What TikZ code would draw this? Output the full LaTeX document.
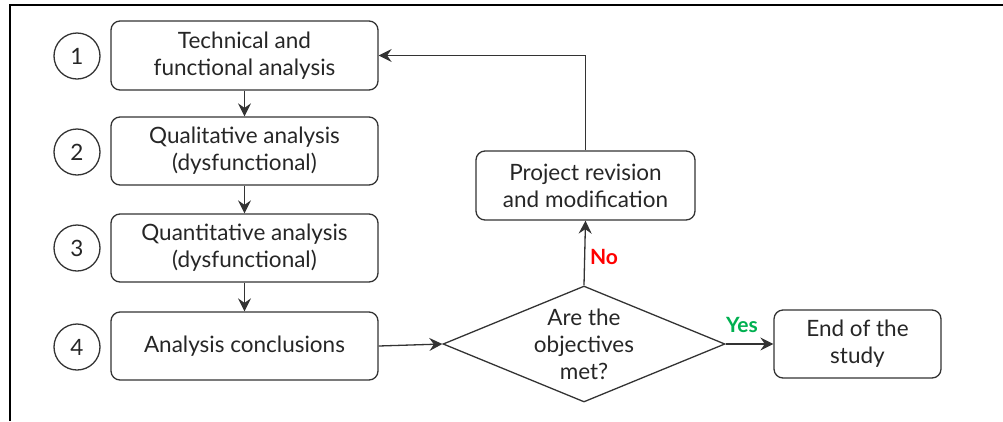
\documentclass[tikz,border=0pt]{standalone}
\usepackage{fontspec}
\setmainfont{Lato}
\usetikzlibrary{shapes.geometric,arrows.meta}
\definecolor{linec}{HTML}{333333}
\definecolor{yesgreen}{HTML}{00B050}
\begin{document}
\begin{tikzpicture}[x=1pt,y=-1pt,
  txt/.style={font=\fontsize{22.5}{27}\selectfont, text=black!85},
  box/.style={draw=linec, line width=1.3pt, rounded corners=9pt, align=center, inner sep=0pt, txt},
  num/.style={draw=linec, line width=1.3pt, circle, minimum size=46pt, inner sep=0pt, txt},
  dec/.style={draw=linec, line width=1.3pt, diamond, minimum width=282pt, minimum height=116pt, inner sep=0pt},
  conn/.style={draw=linec, line width=1.3pt, -{Stealth[length=13pt,width=13pt,inset=4.5pt]}},
  lab/.style={font=\fontsize{21}{24}\selectfont\bfseries}
]
\useasboundingbox (0,0) rectangle (1003,421);
\draw[line width=2pt, black] (10,421) -- (10,5) -- (1003,5);

\node[box, minimum width=267pt, minimum height=69pt] (b1) at (244.5,55.5) {Technical and\\functional analysis};
\node[box, minimum width=267pt, minimum height=68pt] (b2) at (244.5,151) {Qualitative analysis\\(dysfunctional)};
\node[box, minimum width=267pt, minimum height=68pt] (b3) at (244.5,248) {Quantitative analysis\\(dysfunctional)};
\node[box, minimum width=267pt, minimum height=68pt] (b4) at (244.5,346) {Analysis conclusions};

\node[num] (c1) at (77,56) {1};
\node[num] (c2) at (77,152) {2};
\node[num] (c3) at (77,248) {3};
\node[num] (c4) at (77,347) {4};

\node[box, minimum width=219pt, minimum height=69pt] (pr) at (585.5,185.5) {Project revision\\and modification};
\node[dec] (dia) at (584,344) {};
\node[txt, align=center, inner sep=0pt] (diatext) at (dia.center) {Are the\\objectives\\met?};
\node[box, minimum width=167pt, minimum height=68pt] (end) at (857.5,344) {End of the\\study};

\draw[conn] (b1) -- (b2);
\draw[conn] (b2) -- (b3);
\draw[conn] (b3) -- (b4);
\draw[conn] (b4.east) -- (dia.west);
\draw[conn] (dia.north) -- (pr.south);
\draw[conn] (dia.east) -- (end.west);
\draw[conn] (pr.north) |- (b1.east);

\node[lab, text=red] (no) at (604,257) {No};
\node[lab, text=yesgreen] (yes) at (742,325) {Yes};
\end{tikzpicture}
\end{document}
